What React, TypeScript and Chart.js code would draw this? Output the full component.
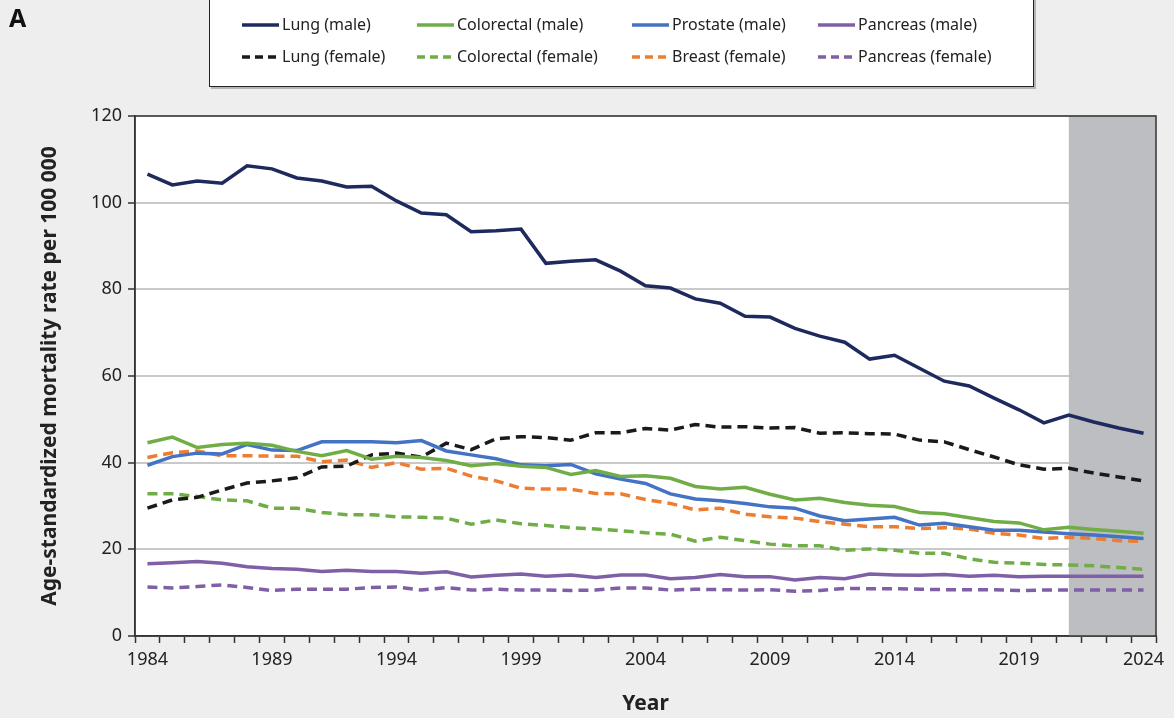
import React, { useEffect, useRef } from "react";
import { Chart, registerables } from "chart.js";

Chart.register(...registerables);

const years = [
  "1984", "1985", "1986", "1987", "1988", "1989", "1990", "1991", "1992", "1993",
  "1994", "1995", "1996", "1997", "1998", "1999", "2000", "2001", "2002", "2003",
  "2004", "2005", "2006", "2007", "2008", "2009", "2010", "2011", "2012", "2013",
  "2014", "2015", "2016", "2017", "2018", "2019", "2020", "2021", "2022", "2023",
  "2024",
];
const yTicks = [0, 20, 40, 60, 80, 100, 120];
const projectionStartYear = "2021";

const lungMale = [
  106.6, 104.1, 105.0, 104.5, 108.5, 107.8, 105.7, 105.0, 103.6, 103.8,
  100.4, 97.6, 97.2, 93.3, 93.5, 93.9, 86.0, 86.5, 86.8, 84.2,
  80.8, 80.3, 77.8, 76.8, 73.8, 73.6, 71.0, 69.2, 67.8, 63.9,
  64.8, 61.8, 58.8, 57.7, 54.9, 52.2, 49.2, 51.0, 49.4, 48.0,
  46.8,
];
const colorectalMale = [
  44.6, 45.9, 43.5, 44.2, 44.5, 44.0, 42.6, 41.6, 42.8, 40.8,
  41.5, 41.2, 40.5, 39.3, 39.8, 39.2, 38.9, 37.3, 38.2, 36.8,
  37.0, 36.4, 34.5, 33.9, 34.3, 32.7, 31.4, 31.8, 30.8, 30.2,
  29.9, 28.5, 28.2, 27.3, 26.4, 26.1, 24.5, 25.1, 24.6, 24.2,
  23.7,
];
const prostateMale = [
  39.4, 41.4, 42.2, 42.0, 44.2, 42.9, 42.8, 44.8, 44.8, 44.8,
  44.6, 45.1, 42.7, 41.8, 40.9, 39.5, 39.3, 39.6, 37.4, 36.2,
  35.2, 32.8, 31.6, 31.2, 30.6, 29.8, 29.5, 27.7, 26.6, 27.0,
  27.4, 25.6, 26.0, 25.2, 24.4, 24.4, 24.0, 23.6, 23.3, 22.9,
  22.5,
];
const pancreasMale = [
  16.7, 16.9, 17.2, 16.8, 16.0, 15.6, 15.4, 14.9, 15.2, 14.9,
  14.9, 14.5, 14.8, 13.6, 14.0, 14.3, 13.8, 14.1, 13.5, 14.1,
  14.1, 13.2, 13.5, 14.2, 13.7, 13.7, 12.9, 13.5, 13.2, 14.3,
  14.1, 14.0, 14.2, 13.8, 14.0, 13.7, 13.8, 13.8, 13.8, 13.8,
  13.8,
];
const lungFemale = [
  29.5, 31.4, 32.0, 33.7, 35.3, 35.8, 36.5, 39.0, 39.2, 41.8,
  42.2, 41.3, 44.5, 43.0, 45.5, 46.0, 45.8, 45.2, 46.9, 46.9,
  47.9, 47.5, 48.8, 48.2, 48.3, 48.0, 48.1, 46.8, 46.9, 46.7,
  46.6, 45.2, 44.8, 43.0, 41.3, 39.5, 38.5, 38.7, 37.6, 36.7,
  35.8,
];
const colorectalFemale = [
  32.8, 32.8, 32.2, 31.4, 31.2, 29.5, 29.5, 28.5, 28.0, 28.0,
  27.5, 27.4, 27.2, 25.8, 26.8, 25.9, 25.5, 25.0, 24.7, 24.3,
  23.8, 23.5, 21.9, 22.8, 22.0, 21.2, 20.8, 20.8, 19.8, 20.1,
  19.8, 19.1, 19.1, 17.8, 17.0, 16.8, 16.5, 16.4, 16.2, 15.8,
  15.4,
];
const breastFemale = [
  41.2, 42.3, 42.7, 41.6, 41.6, 41.5, 41.5, 40.2, 40.6, 38.9,
  40.0, 38.5, 38.7, 36.9, 35.8, 34.1, 33.9, 33.9, 32.9, 32.8,
  31.5, 30.6, 29.1, 29.5, 28.1, 27.5, 27.2, 26.4, 25.8, 25.2,
  25.2, 24.8, 25.0, 24.7, 23.7, 23.3, 22.5, 22.8, 22.5, 22.0,
  21.8,
];
const pancreasFemale = [
  11.3, 11.1, 11.4, 11.8, 11.2, 10.5, 10.8, 10.8, 10.8, 11.2,
  11.3, 10.6, 11.2, 10.6, 10.8, 10.6, 10.6, 10.5, 10.6, 11.1,
  11.1, 10.6, 10.8, 10.7, 10.6, 10.7, 10.3, 10.5, 11.0, 10.9,
  10.9, 10.8, 10.7, 10.7, 10.7, 10.5, 10.6, 10.6, 10.6, 10.6,
  10.6,
];

const seriesLabels = [
  "Lung (male)", "Colorectal (male)", "Prostate (male)", "Pancreas (male)",
  "Lung (female)", "Colorectal (female)", "Breast (female)", "Pancreas (female)",
];
const seriesValues = [
  lungMale, colorectalMale, prostateMale, pancreasMale,
  lungFemale, colorectalFemale, breastFemale, pancreasFemale,
];
const seriesColors = [
  "#1e2a5e", "#70ad47", "#4472c4", "#7f5fa6",
  "#1a1a1a", "#70ad47", "#ed7d31", "#7f5fa6",
];
const seriesDashed = [false, false, false, false, true, true, true, true];

const FONT = "'Noto Sans', 'Open Sans', sans-serif";
const DASH = [10, 6];

const backgroundPlugin = {
  id: "plotBackground",
  beforeDraw(chart: any) {
    const { ctx, chartArea } = chart;
    ctx.save();
    ctx.fillStyle = "#ffffff";
    ctx.fillRect(chartArea.left, chartArea.top, chartArea.right - chartArea.left, chartArea.bottom - chartArea.top);
    ctx.restore();
  },
  beforeDatasetsDraw(chart: any) {
    const { ctx, chartArea, scales } = chart;
    const x0 = scales.x.getPixelForValue(years.indexOf(projectionStartYear));
    ctx.save();
    ctx.fillStyle = "#bdbec1";
    ctx.fillRect(x0, chartArea.top, chartArea.right - x0, chartArea.bottom - chartArea.top);
    ctx.restore();
  },
  afterDraw(chart: any) {
    const { ctx, chartArea } = chart;
    ctx.save();
    ctx.strokeStyle = "#333333";
    ctx.lineWidth = 1.5;
    ctx.strokeRect(chartArea.left, chartArea.top, chartArea.right - chartArea.left, chartArea.bottom - chartArea.top);

    // legend box
    const bx = 209, by = -4, bw = 825, bh = 91;
    ctx.fillStyle = "#b5b5b5";
    ctx.fillRect(bx + 2, by + 2, bw, bh);
    ctx.fillStyle = "#ffffff";
    ctx.fillRect(bx, by, bw, bh);
    ctx.strokeStyle = "#222222";
    ctx.lineWidth = 1;
    ctx.strokeRect(bx + 0.5, by + 0.5, bw - 1, bh - 1);

    const colX = [242, 417, 632, 818];
    const rowY = [25, 57];
    ctx.font = `16px ${FONT}`;
    ctx.textBaseline = "middle";
    ctx.textAlign = "left";
    chart.data.datasets.forEach((ds: any, i: number) => {
      const cx = colX[i % 4];
      const cy = rowY[Math.floor(i / 4)];
      ctx.beginPath();
      ctx.strokeStyle = ds.borderColor;
      ctx.lineWidth = 3.5;
      ctx.setLineDash(ds.borderDash && ds.borderDash.length ? [8, 5] : []);
      ctx.moveTo(cx, cy);
      ctx.lineTo(cx + 37, cy);
      ctx.stroke();
      ctx.setLineDash([]);
      ctx.fillStyle = "#222222";
      ctx.fillText(ds.label, cx + 40, cy);
    });

    // panel letter
    ctx.font = `bold 25px ${FONT}`;
    ctx.fillStyle = "#111111";
    ctx.textBaseline = "middle";
    ctx.fillText("A", 9, 20);
    ctx.restore();
  },
};

export default function App() {
  const canvasRef = useRef<HTMLCanvasElement | null>(null);

  useEffect(() => {
    document.body.style.margin = "0";
    const canvas = canvasRef.current;
    if (!canvas) return;
    const chart = new Chart(canvas, {
      type: "line",
      data: {
        labels: years,
        datasets: seriesLabels.map((label, i) => ({
          label,
          data: seriesValues[i],
          borderColor: seriesColors[i],
          backgroundColor: seriesColors[i],
          borderWidth: 3.5,
          borderDash: seriesDashed[i] ? DASH : [],
          pointRadius: 0,
          tension: 0,
          fill: false,
        })),
      },
      options: {
        responsive: false,
        animation: false,
        devicePixelRatio: 1,
        layout: { padding: { top: 116, right: 18, left: 0, bottom: 0 } },
        plugins: {
          legend: { display: false },
          tooltip: { enabled: false },
        },
        scales: {
          x: {
            type: "category",
            offset: true,
            grid: {
              offset: true,
              drawOnChartArea: false,
              drawTicks: true,
              tickLength: 7,
              tickColor: "#333333",
              tickWidth: 1.5,
            },
            border: { display: true, color: "#333333", width: 1.5 },
            ticks: {
              autoSkip: false,
              maxRotation: 0,
              padding: 6,
              color: "#222222",
              font: { family: FONT, size: 18 },
              callback: (_v: any, idx: number) => (idx % 5 === 0 ? years[idx] : ""),
            },
            title: {
              display: true,
              text: "Year",
              color: "#222222",
              font: { family: FONT, size: 21, weight: "bold" },
              padding: { top: 0, bottom: 1 },
            },
            afterFit: (scale: any) => {
              scale.height = 82;
            },
          },
          y: {
            min: 0,
            max: 120,
            afterBuildTicks: (scale: any) => {
              scale.ticks = yTicks.map((v) => ({ value: v }));
            },
            grid: {
              color: "#c9c9c9",
              lineWidth: 2,
              drawTicks: true,
              tickLength: 7,
              tickColor: "#333333",
              tickWidth: 1.5,
            },
            border: { display: true, color: "#333333", width: 1.5 },
            ticks: {
              padding: 6,
              color: "#222222",
              font: { family: FONT, size: 18 },
            },
            title: {
              display: true,
              text: "Age-standardized mortality rate per 100 000",
              color: "#222222",
              font: { family: FONT, size: 21, weight: "bold" },
              padding: { top: 37, bottom: 0 },
            },
            afterFit: (scale: any) => {
              scale.width = 135;
            },
          },
        },
      },
      plugins: [backgroundPlugin],
    } as any);
    return () => chart.destroy();
  }, []);

  return (
    <div style={{ width: 1174, height: 718, background: "#eeeeee", position: "relative" }}>
      <canvas ref={canvasRef} width={1174} height={718} style={{ display: "block" }} />
    </div>
  );
}
